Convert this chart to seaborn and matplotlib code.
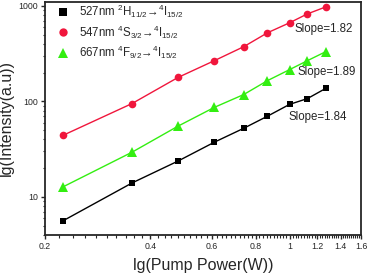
import numpy as np
import pandas as pd
import matplotlib
matplotlib.use("Agg")
import matplotlib.pyplot as plt
import seaborn as sns
from matplotlib.lines import Line2D
from matplotlib.ticker import FixedLocator, MultipleLocator, NullFormatter, FixedFormatter

# pump power (W), same for all three bands
power = [0.225, 0.355, 0.48, 0.61, 0.74, 0.865, 1.0, 1.125, 1.27]

i527 = [5.6, 14.0, 23.7, 37.4, 52.3, 70, 93, 107, 137]
i547 = [44, 95, 178, 267, 374, 523, 665, 825, 976]
i667 = [12.7, 29.4, 55, 86.6, 118, 165, 215, 267, 332]

labels = [r"527nm $^{2}$H$_{11/2}$" + "\u2192" + r"$^{4}$I$_{15/2}$",
          r"547nm $^{4}$S$_{3/2}$" + "\u2192" + r"$^{4}$I$_{15/2}$",
          r"667nm $^{4}$F$_{9/2}$" + "\u2192" + r"$^{4}$I$_{15/2}$"]
slopes = ["Slope=1.82", "Slope=1.89", "Slope=1.84"]
slope_pos = [(1.036, 574), (1.056, 204), (0.99, 69)]

xticks = [0.2, 0.4, 0.6, 0.8, 1.0, 1.2, 1.4, 1.6]
xticklabels = ["0.2", "0.4", "0.6", "0.8", "1", "1.2", "1.4", "1.6"]
yticks = [10, 100, 1000]

sns.set_style("ticks")
plt.rcParams["font.family"] = ["Liberation Sans", "DejaVu Sans"]
plt.rcParams["mathtext.fontset"] = "custom"
plt.rcParams["mathtext.rm"] = "Liberation Sans"
plt.rcParams["mathtext.it"] = "Liberation Sans:italic"
plt.rcParams["mathtext.bf"] = "Liberation Sans:bold"

fig = plt.figure(figsize=(3.71, 2.76), dpi=100)
ax = fig.add_axes([0.121, 0.149, 0.852, 0.844])

series = [(i527, "black", "s", 5.0), (i547, "#f0163c", "o", 5.5), (i667, "#33ee11", "^", 6.5)]
handles = []
for vals, col, mk, ms in series:
    df = pd.DataFrame({"power": power, "intensity": vals})
    sns.lineplot(data=df, x="power", y="intensity", color=col, marker=mk,
                 markersize=ms, markeredgewidth=0, linewidth=1.0, ax=ax)
    handles.append(Line2D([], [], color=col, marker=mk, markersize=ms + 0.5,
                          markeredgewidth=0, linestyle="none"))

ax.set_xscale("log")
ax.set_yscale("log")
ax.set_xlim(0.2, 1.6)
ax.set_ylim(4, 1100)

ax.xaxis.set_major_locator(FixedLocator(xticks))
ax.xaxis.set_major_formatter(FixedFormatter(xticklabels))
ax.xaxis.set_minor_locator(MultipleLocator(0.02))
ax.xaxis.set_minor_formatter(NullFormatter())
ax.yaxis.set_major_locator(FixedLocator(yticks))
ax.yaxis.set_major_formatter(FixedFormatter(["10", "100", "1000"]))

ax.tick_params(which="major", length=3, width=1.0, labelsize=6.3, pad=2)
ax.tick_params(which="minor", length=1.8, width=0.8)
for s in ax.spines.values():
    s.set_linewidth(1.3)

ax.set_xlabel("lg(Pump Power(W))", fontsize=11.5, labelpad=5)
ax.set_ylabel("lg(Intensity(a.u))", fontsize=11.5, labelpad=3)

for txt, (tx, ty) in zip(slopes, slope_pos):
    ax.text(tx, ty, txt, fontsize=8.3, va="center")

ax.legend(handles, labels, loc="upper left", frameon=False, fontsize=8.3,
          handlelength=1.0, handletextpad=0.9, labelspacing=0.25,
          borderaxespad=0.0, borderpad=0.0, bbox_to_anchor=(0.04, 0.995))

fig.savefig("out.png", dpi=100)
